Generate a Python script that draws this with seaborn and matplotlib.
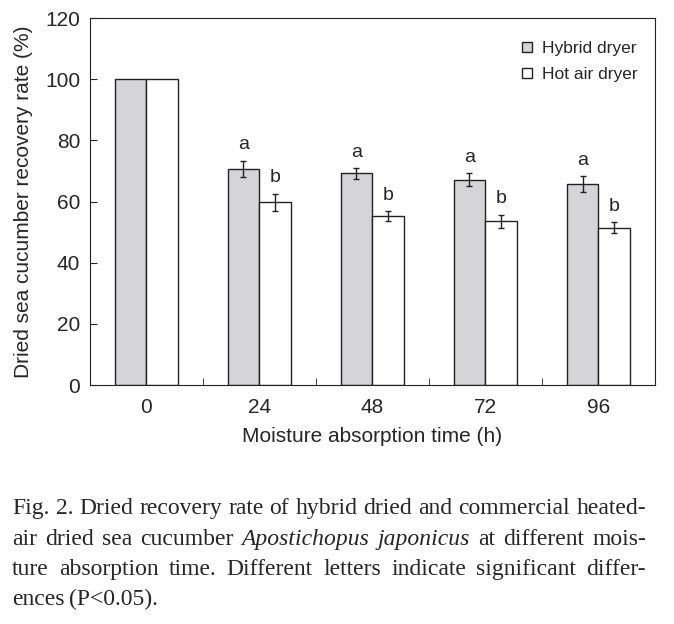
import pandas as pd
import seaborn as sns
import matplotlib.pyplot as plt

# values
times = ['0', '24', '48', '72', '96']
hybrid = [100, 70.6, 69.2, 67.2, 65.6]
hybrid_err = [0, 2.7, 1.7, 2.0, 2.6]
hotair = [100, 59.7, 55.2, 53.5, 51.5]
hotair_err = [0, 2.9, 1.6, 2.2, 1.7]
hybrid_letters = ['', 'a', 'a', 'a', 'a']
hotair_letters = ['', 'b', 'b', 'b', 'b']

caption_lines = [
    'Fig. 2. Dried recovery rate of hybrid dried and commercial heated-',
    'air dried sea cucumber *Apostichopus *japonicus at different mois-',
    'ture absorption time. Different letters indicate significant differ-',
    'ences (P<0.05).',
]

data = pd.DataFrame({
    'time': times * 2,
    'rate': hybrid + hotair,
    'err': hybrid_err + hotair_err,
    'letter': hybrid_letters + hotair_letters,
    'dryer': ['Hybrid dryer'] * 5 + ['Hot air dryer'] * 5,
})

sns.set_style('ticks')
plt.rcParams['font.family'] = ['Liberation Sans', 'DejaVu Sans']

fig = plt.figure(figsize=(6.74, 6.24), dpi=100)
ax = fig.add_axes([0.1335, 0.383, 0.8383, 0.588])

sns.barplot(data=data, x='time', y='rate', hue='dryer', order=times,
            palette={'Hybrid dryer': '#d5d5d7', 'Hot air dryer': 'white'},
            edgecolor='#222222', linewidth=1.0, width=0.566, errorbar=None,
            saturation=1, ax=ax)

# error bars and letters on top of each bar
for cont, dryer in zip(ax.containers, ['Hybrid dryer', 'Hot air dryer']):
    sub = data[data['dryer'] == dryer].reset_index(drop=True)
    for bar, (_, row) in zip(cont, sub.iterrows()):
        xc = bar.get_x() + bar.get_width() / 2
        if row['err'] > 0:
            ax.errorbar(xc, row['rate'], yerr=row['err'], color='#222222',
                        capsize=2.5, elinewidth=1, capthick=1)
        if row['letter']:
            ax.text(xc, row['rate'] + row['err'] + 2.5, row['letter'],
                    ha='center', va='bottom', fontsize=14)

ax.set_xlim(-0.5, 4.5)
ax.set_ylim(0, 120)
ax.set_yticks(range(0, 121, 20))
ax.set_xticks(range(5))
ax.set_xticklabels(times)
ax.set_xticks([0.5, 1.5, 2.5, 3.5], minor=True)
ax.tick_params(axis='x', which='major', length=0, labelsize=15, pad=9)
ax.tick_params(axis='x', which='minor', direction='in', length=5)
ax.tick_params(axis='y', direction='in', length=5, labelsize=15, pad=7)
for s in ax.spines.values():
    s.set_visible(True)
    s.set_color('#222222')
ax.set_xlabel('Moisture absorption time (h)', fontsize=15)
ax.set_ylabel('Dried sea cucumber recovery rate (%)', fontsize=15)
ax.xaxis.set_label_coords(0.5, -0.115)
ax.yaxis.set_label_coords(-0.1, 0.5)

ax.legend(loc='upper right', frameon=False, fontsize=12.5,
          handlelength=0.55, handleheight=0.55, handletextpad=0.6,
          labelspacing=0.62, borderpad=0, borderaxespad=0,
          bbox_to_anchor=(0.97, 0.937))

# caption, justified word by word
renderer = fig.canvas.get_renderer()
fw = fig.get_figwidth() * fig.dpi
x0, x1 = 12, 646
baselines = [0.1763, 0.1266, 0.0785, 0.0304]
for i, (line, yb) in enumerate(zip(caption_lines, baselines)):
    words = line.split(' ')
    objs = []
    for w in words:
        it = w.startswith('*')
        objs.append(fig.text(0, yb, w.lstrip('*'), fontsize=17,
                             family='Liberation Serif',
                             style='italic' if it else 'normal',
                             ha='left', va='baseline'))
    widths = [o.get_window_extent(renderer).width for o in objs]
    if i < len(caption_lines) - 1:
        gap = (x1 - x0 - sum(widths)) / (len(words) - 1)
    else:
        gap = 4.5
    x = x0
    for o, w in zip(objs, widths):
        o.set_x(x / fw)
        x += w + gap

plt.savefig('out.png', dpi=100)
plt.close()
